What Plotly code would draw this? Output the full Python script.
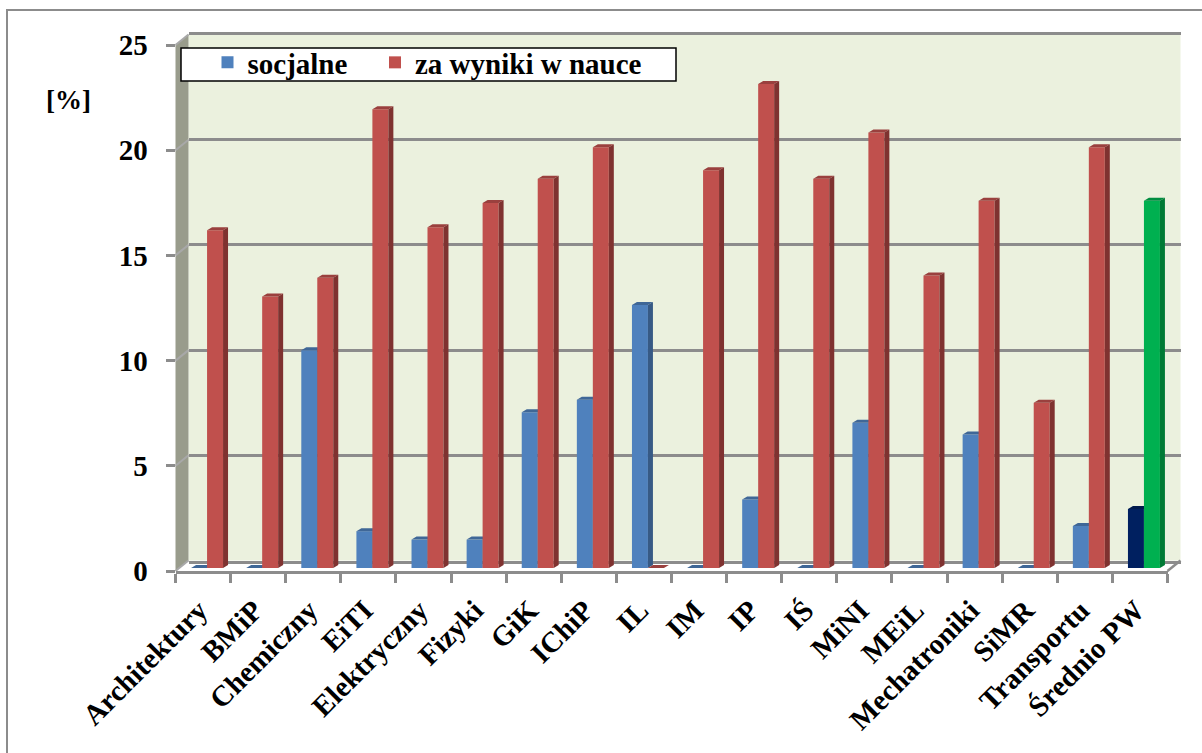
import plotly.graph_objects as go

categories = ["Architektury", "BMiP", "Chemiczny", "EiTI", "Elektryczny", "Fizyki", "GiK", "IChiP", "IL",
              "IM", "IP", "IŚ", "MiNI", "MEiL", "Mechatroniki", "SiMR", "Transportu", "Średnio PW"]
socjalne = [0, 0, 10.35, 1.75, 1.35, 1.35, 7.4, 8.0, 12.5, 0, 3.25, 0, 6.9, 0, 6.35, 0, 2.0, 2.8]
za_wyniki = [16.05, 12.9, 13.8, 21.8, 16.2, 17.35, 18.5, 20.0, 0, 18.9, 23.0, 18.5, 20.7, 13.9, 17.45, 7.85, 20.0, 17.45]
y_ticks = [0, 5, 10, 15, 20, 25]

W, H = 1202, 753
GRAY = "#8C8C8C"
FONT = "Liberation Serif"


def px(v):
    return v / W


def py(v):
    return 1 - v / H


# pixel frames of the three layers
AX_L, AX_R, AX_B, AX_T = 175.5, 1167.5, 571, 45
WALL_DX, WALL_DY = 13, 10.5
BAR_DX, BAR_DY = 4, 3
CAT = (AX_R - AX_L) / len(categories)
UNIT = (AX_B - AX_T) / 25
BW = 0.29
DEPTH_X, DEPTH_Y = 5 / CAT, 3 / UNIT


def faces(values, offset, idx):
    """Top and right faces of the 3D bars, derived from the values."""
    tx, ty, sx, sy = [], [], [], []
    for i in idx:
        v = values[i]
        x0, x1 = i + offset, i + offset + BW
        tx += [x0, x1, x1 + DEPTH_X, x0 + DEPTH_X, x0, None]
        ty += [v, v, v + DEPTH_Y, v + DEPTH_Y, v, None]
        if v > 0:
            sx += [x1, x1 + DEPTH_X, x1 + DEPTH_X, x1, x1, None]
            sy += [0, DEPTH_Y, v + DEPTH_Y, v, 0, None]
    return tx, ty, sx, sy


def poly(x, y, color, xa, ya):
    return go.Scatter(x=x, y=y, mode="lines", fill="toself", fillcolor=color, line=dict(width=0),
                      hoverinfo="skip", showlegend=False, xaxis=xa, yaxis=ya)


fig = go.Figure()
n = len(categories)
regular = list(range(n - 1))
last = [n - 1]

# wall grid layer: x2/y2; label layer: x/y; blue: x3/y3; red: x4/y4
fig.add_trace(go.Scatter(x=[0], y=[0], mode="markers", marker=dict(opacity=0), hoverinfo="skip",
                         showlegend=False, xaxis="x2", yaxis="y2"))
fig.add_trace(go.Scatter(x=[categories[0]], y=[0], mode="markers", marker=dict(opacity=0), hoverinfo="skip",
                         showlegend=False, xaxis="x", yaxis="y"))

xs = list(range(n))
fig.add_trace(go.Bar(x=xs, y=socjalne, width=BW, offset=-BW, name="socjalne", legend="legend",
                     marker=dict(color=["#4F81BD"] * (n - 1) + ["#002060"], line=dict(width=0)),
                     xaxis="x3", yaxis="y3"))
t = faces(socjalne, -BW, regular)
fig.add_trace(poly(t[0], t[1], "#3F6797", "x3", "y3"))
fig.add_trace(poly(t[2], t[3], "#375A85", "x3", "y3"))
t = faces(socjalne, -BW, last)
fig.add_trace(poly(t[0], t[1], "#001A4D", "x3", "y3"))
fig.add_trace(poly(t[2], t[3], "#001640", "x3", "y3"))

fig.add_trace(go.Bar(x=xs, y=za_wyniki, width=BW, offset=0, name="za wyniki w nauce", legend="legend2",
                     marker=dict(color=["#C0504D"] * (n - 1) + ["#00B050"], line=dict(width=0)),
                     xaxis="x4", yaxis="y4"))
t = faces(za_wyniki, 0, regular)
fig.add_trace(poly(t[0], t[1], "#9A403E", "x4", "y4"))
fig.add_trace(poly(t[2], t[3], "#7F3230", "x4", "y4"))
t = faces(za_wyniki, 0, last)
fig.add_trace(poly(t[0], t[1], "#008D40", "x4", "y4"))
fig.add_trace(poly(t[2], t[3], "#007A35", "x4", "y4"))

shapes = [
    # picture frame (open at the right and bottom)
    dict(type="rect", xref="paper", yref="paper", x0=px(7), x1=px(1230), y0=py(10), y1=py(790),
         line=dict(color="#8C8C8C", width=2), layer="below"),
    # back wall
    dict(type="rect", xref="paper", yref="paper", x0=px(AX_L + WALL_DX), x1=px(AX_R + WALL_DX),
         y0=py(AX_B - WALL_DY), y1=py(AX_T - WALL_DY), fillcolor="#EBF1DE", line=dict(width=0), layer="below"),
    # side wall
    dict(type="path", xref="paper", yref="paper",
         path=f"M{px(AX_L)},{py(AX_B)} L{px(AX_L + WALL_DX)},{py(AX_B - WALL_DY)} "
              f"L{px(AX_L + WALL_DX)},{py(AX_T - WALL_DY)} L{px(AX_L)},{py(AX_T)} Z",
         fillcolor="#999C8C", line=dict(width=0), layer="below"),
    # floor outline
    dict(type="path", xref="paper", yref="paper",
         path=f"M{px(AX_R)},{py(AX_B)} L{px(AX_R + WALL_DX)},{py(AX_B - WALL_DY)}",
         line=dict(color=GRAY, width=2.5), layer="below"),
    # legend box
    dict(type="rect", xref="paper", yref="paper", x0=px(181), x1=px(676), y0=py(48), y1=py(81),
         fillcolor="white", line=dict(color="black", width=1.5), layer="above"),
]
for v in y_ticks:
    ypix = AX_B - v * UNIT
    shapes.append(dict(type="line", xref="paper", yref="paper", x0=px(AX_L), x1=px(AX_L + WALL_DX),
                       y0=py(ypix), y1=py(ypix - WALL_DY), line=dict(color="#A8A8A8", width=2), layer="below"))

tick_font = dict(family=FONT, size=29, color="black", weight="bold")
hidden = dict(visible=False, fixedrange=True)
legend_common = dict(orientation="h", xanchor="left", yanchor="top", bgcolor="rgba(0,0,0,0)", borderwidth=0,
                     font=dict(family=FONT, size=29, color="black", weight="bold"), itemwidth=30)


def xdom(dx):
    return [px(AX_L + dx), px(AX_R + dx)]


def ydom(dy):
    return [py(AX_B - dy), py(AX_T - dy)]


fig.update_layout(
    width=W, height=H, margin=dict(l=0, r=0, t=0, b=0, autoexpand=False),
    paper_bgcolor="white", plot_bgcolor="rgba(0,0,0,0)", shapes=shapes,
    font=dict(family=FONT, color="black"),
    xaxis=dict(domain=xdom(0), type="category", categoryorder="array", categoryarray=categories,
               range=[-0.5, n - 0.5], tickson="boundaries", ticks="outside", ticklen=9, tickwidth=2.5,
               tickcolor=GRAY, showline=True, linecolor=GRAY, linewidth=2.5, showgrid=False, zeroline=False,
               tickangle=-45, tickfont=tick_font, anchor="y", fixedrange=True,
               ticklabelstandoff=8, ticklabelshift=-4),
    yaxis=dict(domain=ydom(0), range=[0, 25], tickvals=y_ticks, ticks="outside", ticklen=9, tickwidth=2.5,
               tickcolor=GRAY, showline=False, showgrid=False, zeroline=False,
               tickfont=dict(family=FONT, size=29, color="black", weight="bold"),
               anchor="x", fixedrange=True, ticklabelstandoff=12),
    xaxis2=dict(domain=xdom(WALL_DX), range=[0, 1], visible=True, showticklabels=False, ticks="", showgrid=False,
                zeroline=False, showline=True, mirror=True, linecolor=GRAY, linewidth=2.5,
                anchor="y2", fixedrange=True),
    yaxis2=dict(domain=ydom(WALL_DY), range=[0, 25], tickvals=y_ticks, showgrid=True, gridcolor=GRAY, gridwidth=2.5,
                zeroline=False, showticklabels=False, ticks="", showline=False, anchor="x2", fixedrange=True),
    xaxis3=dict(domain=xdom(BAR_DX), range=[-0.5, n - 0.5], anchor="y3", **hidden),
    yaxis3=dict(domain=ydom(BAR_DY), range=[0, 25], anchor="x3", **hidden),
    xaxis4=dict(domain=xdom(BAR_DX), range=[-0.5, n - 0.5], anchor="y4", **hidden),
    yaxis4=dict(domain=ydom(BAR_DY), range=[0, 25], anchor="x4", **hidden),
    legend=dict(x=px(207.5), y=py(37), **legend_common),
    legend2=dict(x=px(375), y=py(37), **legend_common),
    annotations=[dict(text="[%]", xref="paper", yref="paper", x=px(68), y=py(100), showarrow=False,
                      xanchor="center", yanchor="middle",
                      font=dict(family=FONT, size=27, color="black", weight="bold"))],
)

fig.write_html("out.html", config=dict(displayModeBar=False), post_script="document.body.style.margin='0';")
